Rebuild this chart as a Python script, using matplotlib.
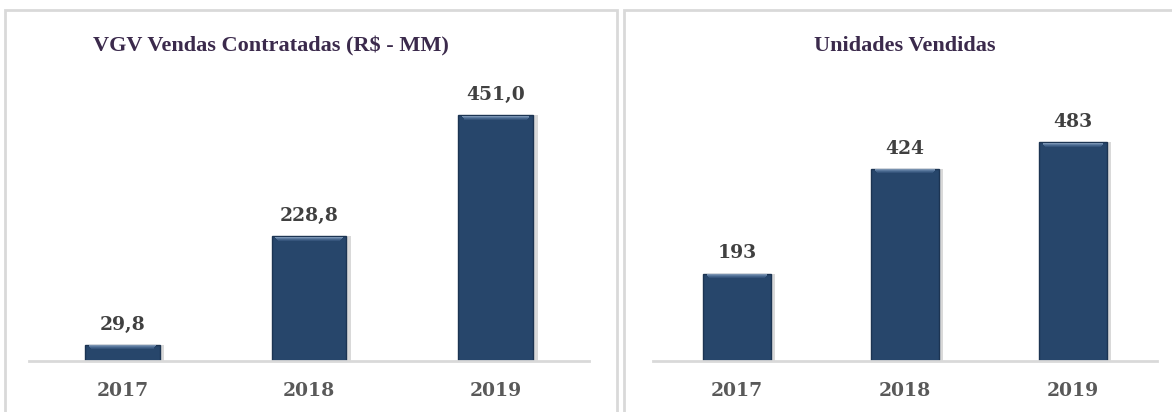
import numpy as np
import matplotlib as mpl
mpl.use('Agg')
import matplotlib.pyplot as plt
from matplotlib.patches import Rectangle

years = ['2017', '2018', '2019']
vgv = [29.8, 228.8, 451.0]
vgv_labels = ['29,8', '228,8', '451,0']
unidades = [193, 424, 483]
unid_labels = ['193', '424', '483']

plt.rcParams['font.family'] = ['DejaVu Serif']
plt.rcParams['font.weight'] = 'bold'

W, H = 1172, 412
fig = plt.figure(figsize=(W / 100, H / 100), dpi=100)

def fx(px):
    return px / W

def fy(py):
    return 1 - py / H

# panel frames
border = '#D9D9D9'
fig.patches.append(Rectangle((fx(5), fy(430)), fx(612), (430 - 10) / H,
                             transform=fig.transFigure, fill=False,
                             edgecolor=border, linewidth=2))
fig.patches.append(Rectangle((fx(624), fy(430)), fx(600), (430 - 10) / H,
                             transform=fig.transFigure, fill=False,
                             edgecolor=border, linewidth=2))

bar_color = '#27466B'
ax1 = fig.add_axes([fx(29), fy(361), fx(560), (361 - 60) / H])
ax2 = fig.add_axes([fx(653), fy(361), fx(504), (361 - 60) / H])


def draw(ax, vals, labels, ymax, width):
    x = np.arange(len(vals))
    # soft shadow
    ax.bar(x + 0.025, vals, width=width, color='#000000', alpha=0.15, zorder=1)
    ax.bar(x, vals, width=width, color=bar_color, edgecolor='#1C3452',
           linewidth=1.0, zorder=2)
    # bevel at the top of each bar
    px = ymax / 301.0
    shades = ['#8FA8C6', '#6A88AD', '#4D6D94', '#3A5A81']
    for i, c in enumerate(shades):
        ax.bar(x, [px] * len(vals), bottom=[v - (i + 1.5) * px for v in vals],
               width=width * (0.9 - 0.02 * i), color=c, alpha=0.8, zorder=3)
    for xi, v, lbl in zip(x, vals, labels):
        ax.annotate(lbl, (xi, v), xytext=(0, 8), textcoords='offset points',
                    ha='center', va='bottom', fontsize=13.5, color='#404040',
                    fontweight='bold')
    ax.set_xlim(-0.5, len(vals) - 0.5)
    ax.set_ylim(0, ymax)
    ax.set_xticks(x)
    ax.set_xticklabels(years, fontsize=13.5, color='#595959', fontweight='bold')
    ax.tick_params(axis='x', length=0, pad=15)
    ax.set_yticks([])
    for s in ['top', 'right', 'left']:
        ax.spines[s].set_visible(False)
    ax.spines['bottom'].set_color(border)
    ax.spines['bottom'].set_linewidth(2)
    ax.spines['bottom'].set_zorder(4)
    ax.patch.set_alpha(0)


draw(ax1, vgv, vgv_labels, 552, 0.40)
draw(ax2, unidades, unid_labels, 664, 0.40)

title_color = '#3B2A4C'
fig.text(fx(271), fy(46), 'VGV Vendas Contratadas (R$ - MM)', ha='center',
         va='center', fontsize=16, color=title_color, fontweight='bold',
         family='Liberation Serif')
fig.text(fx(905), fy(46), 'Unidades Vendidas', ha='center',
         va='center', fontsize=16, color=title_color, fontweight='bold',
         family='Liberation Serif')

plt.savefig('out.png', dpi=100)
